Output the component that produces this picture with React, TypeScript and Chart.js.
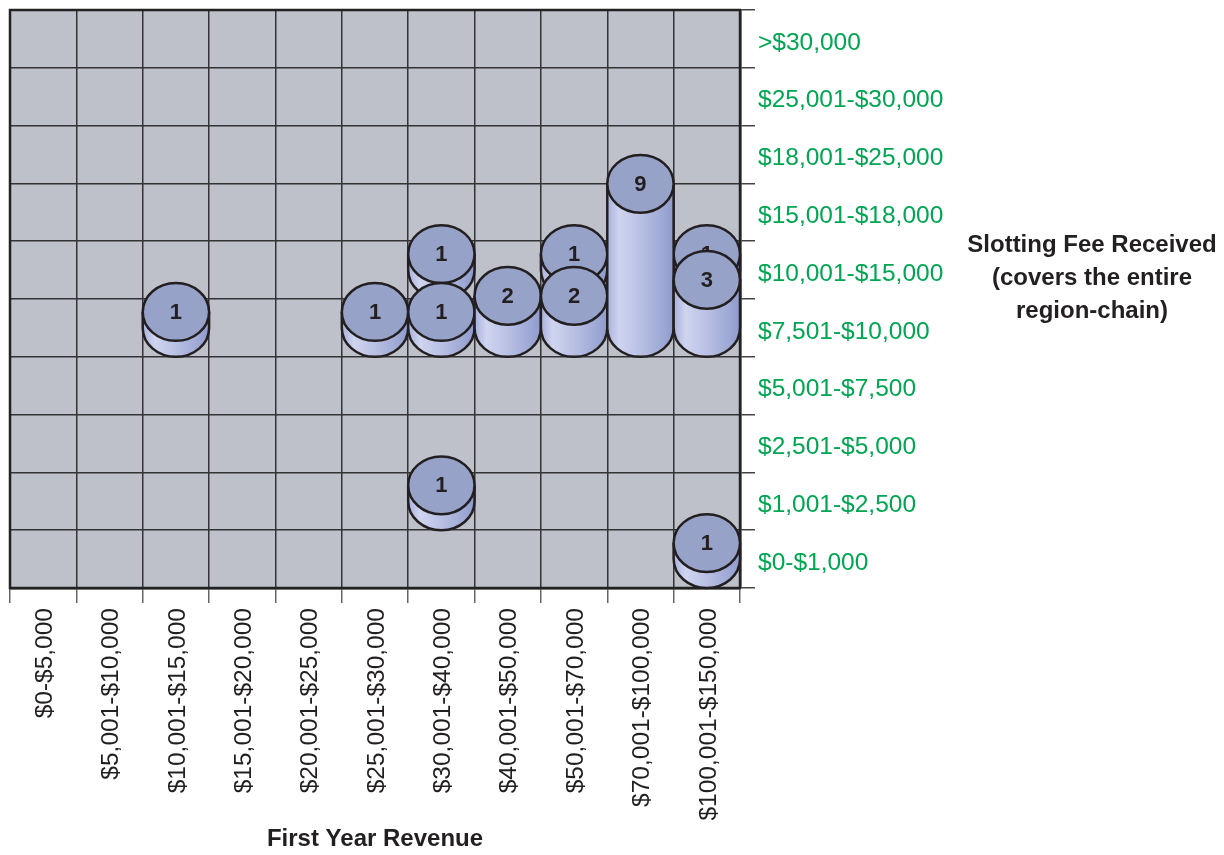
import React, { useEffect, useRef } from 'react';
import { Chart, registerables } from 'chart.js';

Chart.register(...registerables);

// Categories (x axis, left to right)
const revenueLabels = [
  '$0-$5,000',
  '$5,001-$10,000',
  '$10,001-$15,000',
  '$15,001-$20,000',
  '$20,001-$25,000',
  '$25,001-$30,000',
  '$30,001-$40,000',
  '$40,001-$50,000',
  '$50,001-$70,000',
  '$70,001-$100,000',
  '$100,001-$150,000',
];

// Categories (y axis, bottom to top)
const feeLabels = [
  '$0-$1,000',
  '$1,001-$2,500',
  '$2,501-$5,000',
  '$5,001-$7,500',
  '$7,501-$10,000',
  '$10,001-$15,000',
  '$15,001-$18,000',
  '$18,001-$25,000',
  '$25,001-$30,000',
  '>$30,000',
];

// Cells: revenue bucket, fee bucket, count
const cellRevenue = [
  '$10,001-$15,000',
  '$25,001-$30,000',
  '$30,001-$40,000',
  '$30,001-$40,000',
  '$30,001-$40,000',
  '$40,001-$50,000',
  '$50,001-$70,000',
  '$50,001-$70,000',
  '$70,001-$100,000',
  '$100,001-$150,000',
  '$100,001-$150,000',
  '$100,001-$150,000',
];
const cellFee = [
  '$7,501-$10,000',
  '$7,501-$10,000',
  '$10,001-$15,000',
  '$7,501-$10,000',
  '$1,001-$2,500',
  '$7,501-$10,000',
  '$10,001-$15,000',
  '$7,501-$10,000',
  '$7,501-$10,000',
  '$10,001-$15,000',
  '$7,501-$10,000',
  '$0-$1,000',
];
const cellCount = [1, 1, 1, 1, 1, 2, 1, 2, 9, 1, 3, 1];

const xTitle = 'First Year Revenue';
const yTitleLines = ['Slotting Fee Received', '(covers the entire', 'region-chain)'];

const FONT = '"Liberation Sans", Arial, Helvetica, sans-serif';
const DARK = '#231f20';

const cylinderPlugin = {
  id: 'cylinders',
  beforeDraw(chart: any) {
    const { ctx, chartArea } = chart;
    ctx.save();
    ctx.fillStyle = '#bec1ca';
    ctx.fillRect(chartArea.left, chartArea.top, chartArea.right - chartArea.left, chartArea.bottom - chartArea.top);
    ctx.restore();
  },
  beforeDatasetsDraw(chart: any) {
    const { ctx, chartArea } = chart;
    ctx.save();
    ctx.strokeStyle = '#222';
    ctx.lineWidth = 2.5;
    ctx.strokeRect(chartArea.left, chartArea.top, chartArea.right - chartArea.left, chartArea.bottom - chartArea.top);
    ctx.restore();
  },
  afterDatasetsDraw(chart: any) {
    const { ctx } = chart;
    const xs = chart.scales.x;
    const ys = chart.scales.y;
    const meta = chart.getDatasetMeta(0);
    const colW = Math.abs(xs.getPixelForValue(1) - xs.getPixelForValue(0));
    const rowH = Math.abs(ys.getPixelForValue(1) - ys.getPixelForValue(0));
    const rx = colW / 2;
    const ry = rowH / 2;
    const unit = rowH * 0.277;
    const order = meta.data.map((_: any, i: number) => i).sort((a: number, b: number) => meta.data[a].y - meta.data[b].y);
    ctx.save();
    for (const i of order) {
      const el = meta.data[i];
      const cx = el.x;
      const cyBase = el.y;
      const cyTop = cyBase - cellCount[i] * unit;
      // body
      const grad = ctx.createLinearGradient(cx - rx, 0, cx + rx, 0);
      grad.addColorStop(0, '#a8b1dc');
      grad.addColorStop(0.18, '#cfd4ef');
      grad.addColorStop(0.5, '#b9c0e4');
      grad.addColorStop(0.85, '#9ca7d4');
      grad.addColorStop(1, '#8e9acb');
      ctx.beginPath();
      ctx.moveTo(cx - rx, cyTop);
      ctx.lineTo(cx - rx, cyBase);
      ctx.ellipse(cx, cyBase, rx, ry, 0, Math.PI, 0, true);
      ctx.lineTo(cx + rx, cyTop);
      ctx.closePath();
      ctx.fillStyle = grad;
      ctx.fill();
      ctx.lineWidth = 2.5;
      ctx.strokeStyle = DARK;
      ctx.beginPath();
      ctx.moveTo(cx - rx, cyTop);
      ctx.lineTo(cx - rx, cyBase);
      ctx.ellipse(cx, cyBase, rx, ry, 0, Math.PI, 0, true);
      ctx.lineTo(cx + rx, cyTop);
      ctx.stroke();
      // top
      ctx.beginPath();
      ctx.ellipse(cx, cyTop, rx, ry, 0, 0, Math.PI * 2);
      ctx.fillStyle = '#97a2c9';
      ctx.fill();
      ctx.stroke();
      // label
      ctx.fillStyle = DARK;
      ctx.font = `bold 22px ${FONT}`;
      ctx.textAlign = 'center';
      ctx.textBaseline = 'middle';
      ctx.fillText(String(cellCount[i]), cx, cyTop + 1);
    }
    ctx.restore();
  },
  afterDraw(chart: any) {
    const { ctx } = chart;
    ctx.save();
    ctx.fillStyle = DARK;
    ctx.font = `bold 24px ${FONT}`;
    ctx.textAlign = 'center';
    ctx.textBaseline = 'middle';
    yTitleLines.forEach((line, k) => {
      ctx.fillText(line, 1092, 245 + k * 33);
    });
    ctx.restore();
  },
};

export default function App() {
  const canvasRef = useRef<HTMLCanvasElement | null>(null);

  useEffect(() => {
    if (!canvasRef.current) return;
    const points = cellRevenue.map((r, i) => ({ x: r, y: cellFee[i] }));
    const chart = new Chart(canvasRef.current, {
      type: 'scatter',
      data: {
        datasets: [
          {
            label: 'Cells',
            data: points as any,
            pointRadius: 0,
            pointHoverRadius: 0,
          },
        ],
      },
      options: {
        animation: false,
        responsive: true,
        maintainAspectRatio: false,
        layout: { padding: { left: 10, top: 10, right: 0, bottom: 0 } },
        plugins: {
          legend: { display: false },
          tooltip: { enabled: false },
        },
        events: [],
        scales: {
          x: {
            type: 'category',
            labels: revenueLabels,
            offset: true,
            position: 'bottom',
            grid: {
              offset: true,
              color: '#333',
              lineWidth: 1.5,
              tickColor: '#666',
              tickLength: 15,
              drawTicks: true,
            },
            border: { display: true, color: '#222', width: 2.5 },
            ticks: {
              autoSkip: false,
              minRotation: 90,
              maxRotation: 90,
              padding: 5,
              labelOffset: 2,
              color: DARK,
              font: { family: FONT, size: 24.5 },
            },
            title: {
              display: true,
              text: xTitle,
              color: DARK,
              font: { family: FONT, size: 24, weight: 'bold' },
              padding: { top: 0, bottom: 1 },
            },
            afterFit(scale: any) {
              scale.height = 267;
              scale.paddingLeft = 0;
              scale.paddingRight = 0;
            },
          } as any,
          y: {
            type: 'category',
            labels: feeLabels,
            reverse: true,
            offset: true,
            position: 'right',
            grid: {
              offset: true,
              color: '#333',
              lineWidth: 1.5,
              tickColor: '#444',
              tickLength: 15,
              drawTicks: true,
            },
            border: { display: true, color: '#222', width: 2.5 },
            ticks: {
              autoSkip: false,
              padding: 3,
              labelOffset: 4,
              color: '#00a651',
              font: { family: FONT, size: 24.5 },
            },
            afterFit(scale: any) {
              scale.width = 484;
              scale.paddingTop = 0;
              scale.paddingBottom = 0;
            },
          } as any,
        },
      },
      plugins: [cylinderPlugin],
    });
    return () => chart.destroy();
  }, []);

  return (
    <div style={{ position: 'absolute', left: 0, top: 0, width: '1224px', height: '855px' }}>
      <canvas ref={canvasRef} />
    </div>
  );
}
